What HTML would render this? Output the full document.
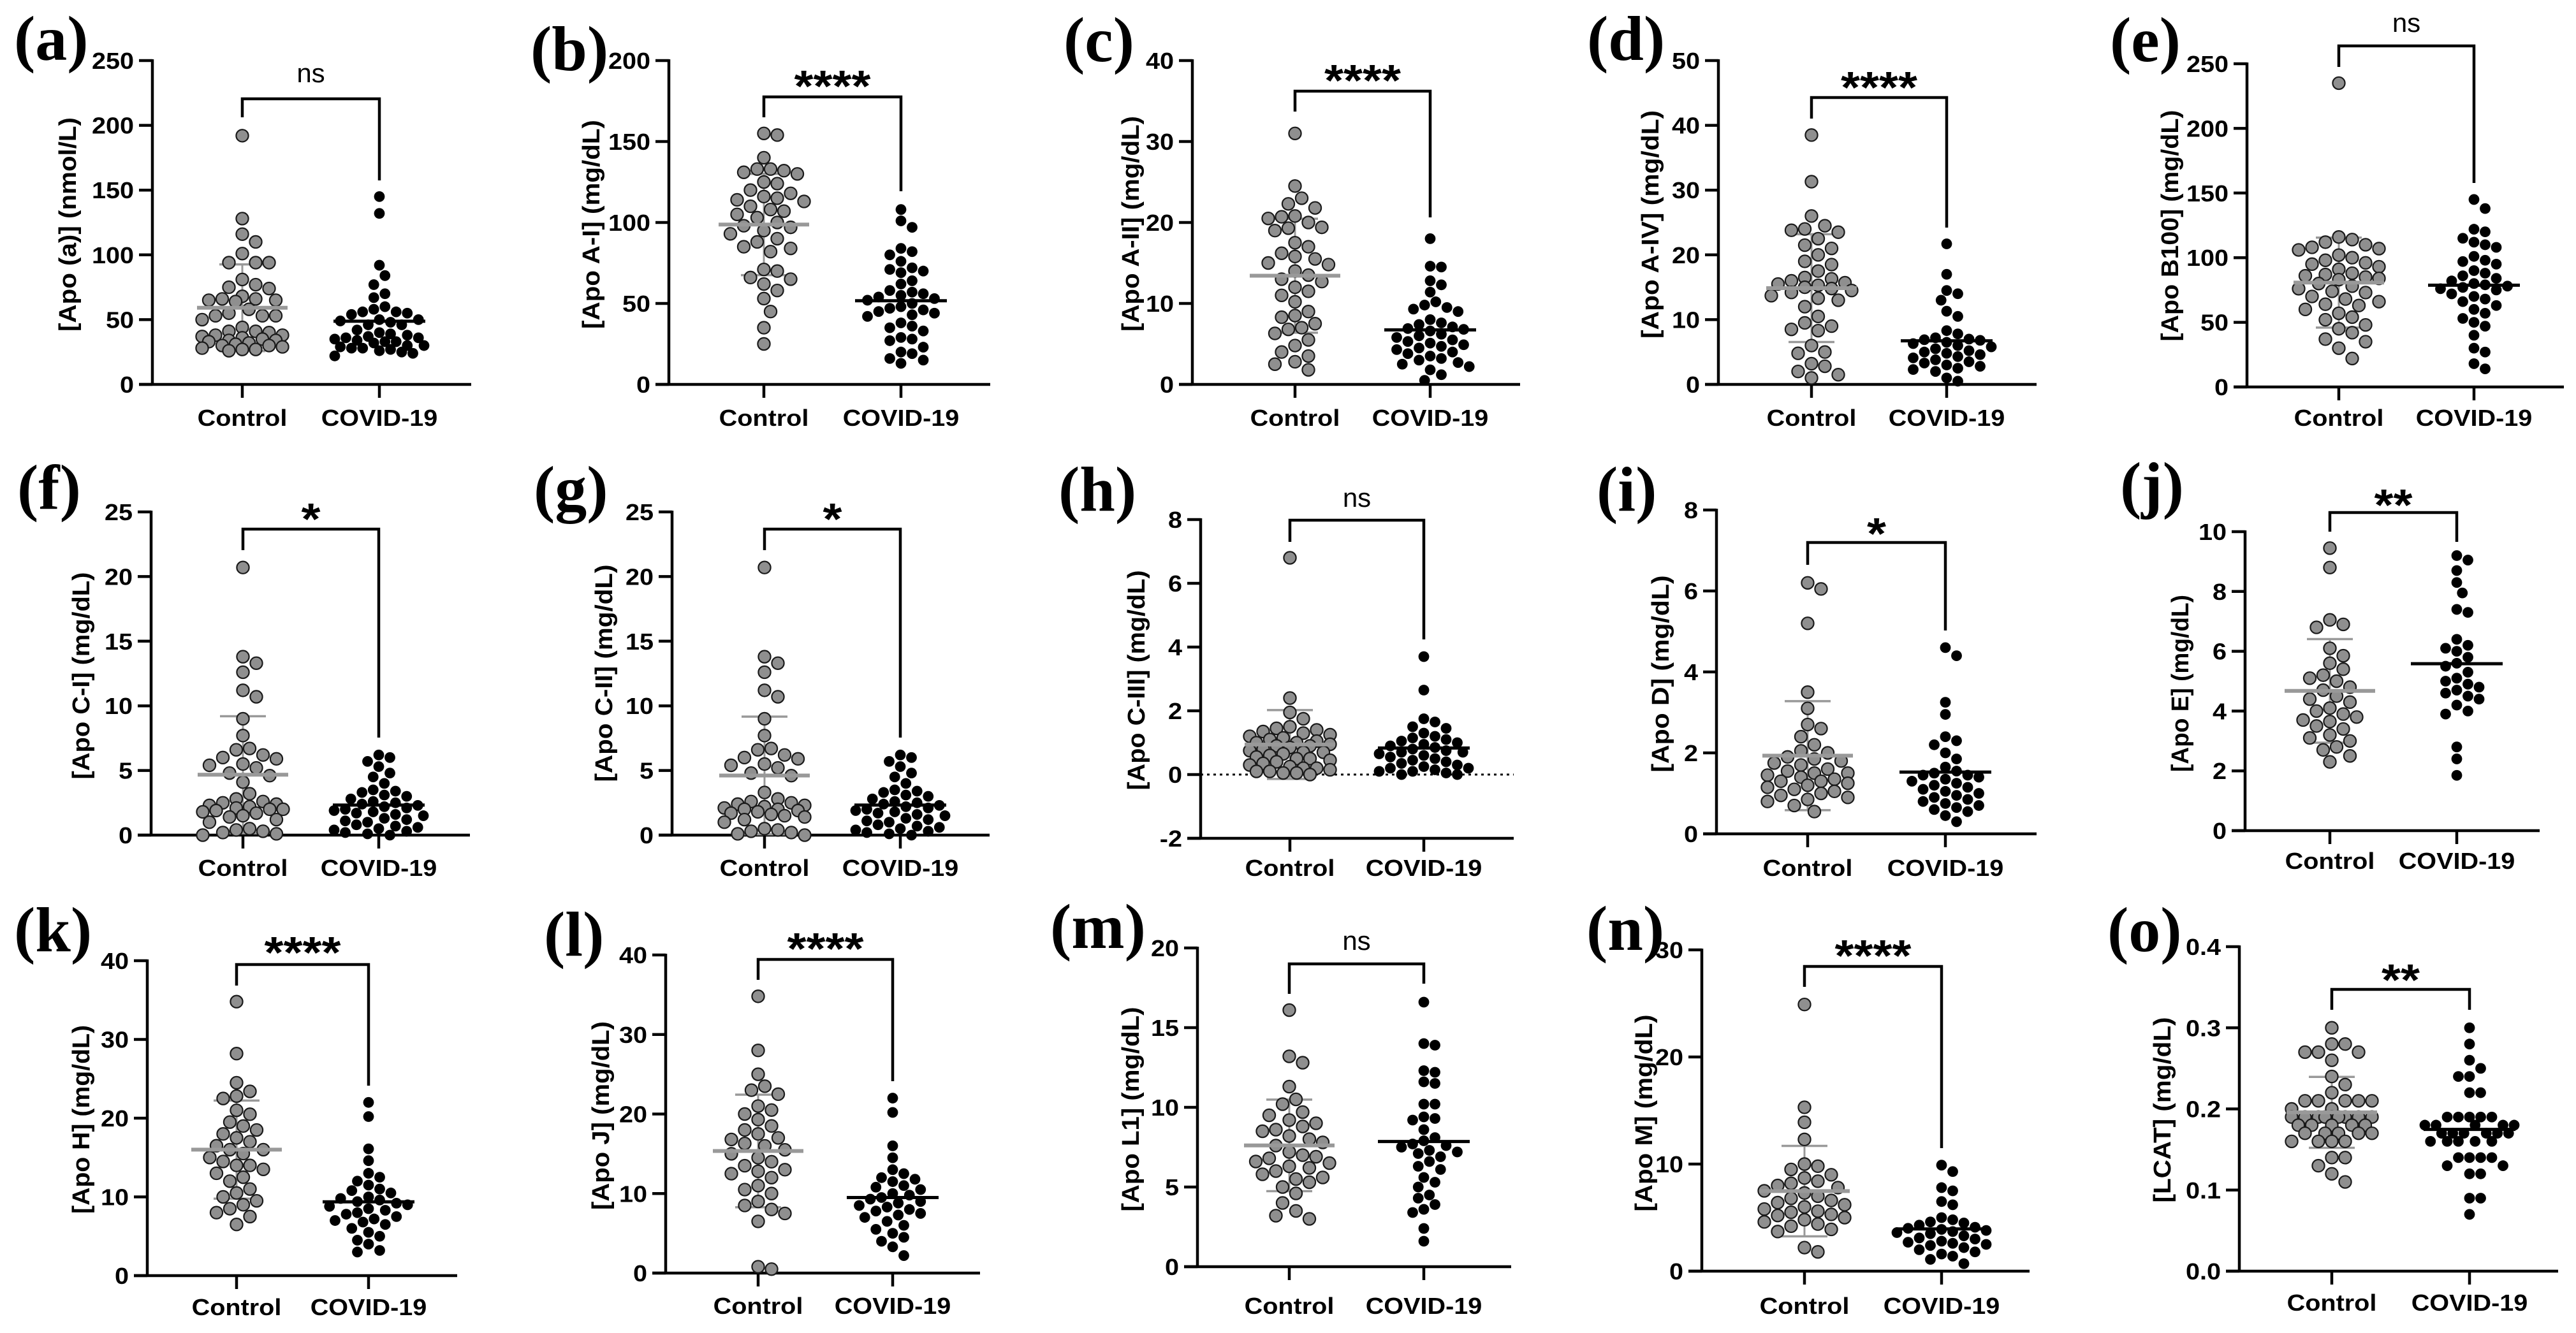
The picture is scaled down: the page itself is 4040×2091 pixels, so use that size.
<!DOCTYPE html>
<html><head><meta charset="utf-8">
<style>
html,body{margin:0;padding:0;background:#fff;}
svg{display:block;}
text{font-family:"Liberation Sans",Arial,sans-serif;}
.pl{font-family:"Liberation Serif",serif;font-weight:bold;font-size:100px;}
</style></head>
<body>
<svg id="fig" width="4040" height="2091" viewBox="0 0 4040 2091" xmlns="http://www.w3.org/2000/svg"></svg>
<script>
// ---- data ----
const categories = ["Control", "COVID-19"];
const aCtrl=[192,128,116,110,101,94,94,94,81,77,75,74,68,66,66,65,65,64,58,55,53,53,53,50,44,41,41,40,38,38,37,36,35,34,34,33,32,31,30,30,29,28,27,27,26];
const aCov=[145,132,92,84,77,70,67,60,58,56,56,55,54,50,50,49,48,46,46,42,40,39,38,37,36,36,35,34,33,33,32,30,30,29,28,28,27,26,25,24,22];
const bCtrl=[155,154,140,133,133,132,131,130,125,124,120,118,116,115,114,113,110,108,107,105,103,100,98,97,95,93,90,88,85,84,82,71,70,66,65,62,58,53,45,35,25];
const bCov=[108,101,97,84,82,80,76,72,71,70,69,64,62,58,57,56,55,54,53,52,50,48,47,46,45,44,43,42,38,36,35,33,29,28,27,23,20,19,16,15,13];
const cCtrl=[31,24.5,23,22.3,21.8,20.8,20.7,20.5,20,19.4,19.3,19,17.5,17,16.2,15.8,15.5,15,14.8,14,13.5,13,12.7,12,11.5,11,10.2,9,8.5,8.3,7.5,7,6.8,6.3,5.5,4.8,4,3.5,2.8,2.5,1.8];
const cCov=[18,14.6,14.5,12.8,12.3,11.4,10.2,9.8,9.5,9.3,9,8,7.6,7.4,7.1,6.9,6.8,6.6,6.2,6,5.8,5.5,5.3,5.1,4.9,4.7,4.5,4.3,4,3.8,3.5,3.2,3,2.7,2.5,2.2,1.8,1.2,0.5];
const dCtrl=[38.5,31.3,26,24.5,24,23.8,23.5,22.5,21.5,21,20,19,18.5,17.5,16.5,16.3,16,15.7,15.5,15.3,15,14.8,14.5,14.2,13.7,13.3,13,12,10.5,9.5,9,8.5,8.3,6,5,4.8,3.2,2.8,2,1.5,1];
const dCov=[21.7,17,14.5,14,13,11.3,10.5,8.3,7.8,7.2,7,6.9,6.8,6.5,6.3,6,5.8,5.5,5.2,5,4.8,4.6,4.3,4.1,3.8,3.5,3.3,3,2.8,2.5,2.3,2,1,0.5];
const eCtrl=[235,116,114,112,110,108,107,106,102,100,98,96,95,93,91,88,87,86,85,84,83,80,78,76,74,73,70,68,66,64,63,60,57,54,52,48,45,42,37,35,30,22];
const eCov=[145,138,122,120,115,112,110,108,101,98,97,95,90,88,86,84,82,80,79,78,77,76,75,72,70,68,66,63,60,57,53,50,47,40,30,27,18,14];
const fCtrl=[20.7,13.8,13.3,12.6,11.2,10.7,9,7.7,6.7,6.6,6.2,6,5.9,5.5,5.4,5.2,4.8,4.6,4.1,3.2,2.8,2.6,2.5,2.4,2.3,2.2,2.1,2,2,1.9,1.8,1.7,1.5,1.4,1.2,1,0.5,0.4,0.3,0.2,0.1,0];
const fCov=[6.2,6,5.7,5.3,4.8,4.5,4,3.5,3.4,3.3,3.1,3,2.8,2.6,2.5,2.4,2.3,2.2,2.1,2,1.9,1.8,1.7,1.6,1.5,1.3,1.2,1.1,1,0.8,0.7,0.6,0.5,0.4,0.3,0.2,0.1,0];
const gCtrl=[20.7,13.8,13.3,12.6,11.2,10.7,9,7.7,6.7,6.6,6.2,6,5.9,5.5,5.4,5.2,4.8,4.6,3.3,2.8,2.6,2.5,2.4,2.3,2.2,2.1,2,2,1.9,1.8,1.7,1.6,1.5,1.4,1.2,1,0.5,0.4,0.3,0.2,0.1,0];
const gCov=[6.2,6,5.7,5.3,4.8,4.5,4,3.5,3.4,3.3,3.1,3,2.8,2.6,2.5,2.4,2.3,2.2,2.1,2,1.9,1.8,1.7,1.6,1.5,1.3,1.2,1.1,1,0.8,0.7,0.6,0.5,0.4,0.3,0.2,0.1,0];
const hCtrl=[6.8,2.4,1.95,1.75,1.5,1.45,1.4,1.35,1.3,1.25,1.2,1.15,1.1,1.05,1,1,0.95,0.9,0.9,0.85,0.8,0.75,0.7,0.7,0.65,0.6,0.55,0.5,0.5,0.45,0.4,0.35,0.3,0.25,0.2,0.2,0.15,0.1,0.1,0.05,0.05,0];
const hCov=[3.7,2.65,1.75,1.65,1.5,1.45,1.3,1.2,1.15,1.1,1.05,1,0.95,0.9,0.85,0.8,0.75,0.7,0.7,0.65,0.6,0.55,0.5,0.45,0.4,0.35,0.3,0.25,0.2,0.2,0.15,0.1,0.1,0.05,0,0];
const iCtrl=[6.2,6.05,5.2,3.5,3.1,2.7,2.6,2.4,2.2,2.05,2,1.9,1.85,1.8,1.75,1.7,1.6,1.55,1.5,1.5,1.45,1.4,1.35,1.3,1.3,1.25,1.2,1.15,1.1,1.05,1,0.95,0.9,0.85,0.8,0.7,0.55];
const iCov=[4.6,4.4,3.25,2.95,2.4,2.3,2.2,2,1.85,1.65,1.55,1.5,1.45,1.45,1.4,1.35,1.3,1.25,1.2,1.15,1.1,1.05,1,0.95,0.9,0.85,0.8,0.75,0.7,0.65,0.6,0.55,0.45,0.3];
const jCtrl=[9.45,8.8,7.05,6.9,6.8,6.1,5.85,5.6,5.4,5.2,5.1,5,4.8,4.7,4.5,4.4,4.3,4.1,4,3.9,3.8,3.7,3.65,3.5,3.4,3.2,3.1,3,2.8,2.7,2.5,2.3];
const jCov=[9.2,9.05,8.7,8.3,7.95,7.4,7.3,6.4,6.2,6.1,6,5.8,5.6,5.5,5.3,5.1,5,4.9,4.8,4.7,4.6,4.5,4.4,4.2,4,3.9,2.8,2.4,1.85];
const kCtrl=[34.8,28.2,24.5,23.4,22.8,22.5,21,20.5,19.5,19,18.5,18,17.5,17,16.5,16,16,15.5,15,14.5,14,14,13.5,13,12.5,12,11,10.5,10,9.5,9,8.5,8,7.5,6.5];
const kCov=[22,20.2,16.1,14.6,13,12.5,12,11.5,11,10.8,10.5,10,9.8,9.6,9.4,9.2,9,8.8,8.5,8.3,8,7.8,7.5,7.2,7,6.8,6.5,6,5.5,5,4.5,4,3.2,3];
const lCtrl=[34.8,28,25,23.5,23,22.5,21,20.5,20,19.3,18.5,18,17.5,17,16.8,16.3,16,15.5,15,14.5,14,13.5,13,12.8,12.5,12,11,10.5,10,9,8.5,8,7.5,6.5,0.8,0.5];
const lCov=[22,20.2,16,14.5,13,12.5,12,11.8,11.5,11,10.8,10.5,10,9.8,9.5,9.3,9,8.8,8.5,8.3,8,7.8,7.5,7.3,7,6.5,6,5.5,5,4.5,4,3.3,2.2];
const mCtrl=[16.1,13.2,12.8,11.3,10.5,10.2,9.7,9.5,9.2,9,8.8,8.6,8.5,8.2,8,7.8,7.6,7.2,7,6.9,6.8,6.6,6.5,6.3,6.2,6,5.8,5.6,5.5,5.3,5,4.6,4,3.5,3.2,3];
const mCov=[16.6,14,13.9,12.3,12.2,11.6,11.5,10.2,10.2,9.4,9.3,9.2,8.6,8.1,7.9,7.7,7.6,7.5,7.3,7.2,7.1,6.9,6.6,6.3,6.1,5.6,5.3,5,4.5,4.3,3.9,3.6,3.4,2.4,1.6];
const nCtrl=[24.9,15.3,13.9,12.3,10,9.8,9.5,9,8.7,8.4,8.2,8,7.8,7.5,7.3,7,6.8,6.6,6.4,6.2,6,5.8,5.6,5.5,5.3,5.2,5,4.8,4.6,4.4,4.2,3.9,3.7,2.2,1.8];
const nCov=[9.9,9.3,7.8,7.5,6.5,6.2,5,4.8,4.6,4.5,4.3,4.1,4,3.9,3.8,3.7,3.6,3.5,3.3,3.1,3,2.8,2.7,2.6,2.5,2.4,2.2,2,1.8,1.6,1.4,1.1,0.7];
const oCtrl=[.30,.28,.28,.27,.27,.27,.26,.24,.23,.22,.21,.21,.21,.21,.21,.20,.20,.19,.19,.19,.19,.19,.19,.19,.19,.19,.18,.18,.18,.18,.18,.17,.17,.17,.17,.17,.16,.16,.16,.16,.14,.14,.13,.12,.11];
const oCov=[.30,.28,.26,.25,.24,.24,.22,.22,.19,.19,.19,.19,.19,.18,.18,.18,.18,.18,.17,.17,.17,.17,.17,.17,.16,.16,.16,.16,.16,.14,.14,.14,.14,.13,.13,.12,.12,.09,.09,.07];
const titles=["[Apo (a)] (nmol/L)","[Apo A-I] (mg/dL)","[Apo A-II] (mg/dL)","[Apo A-IV] (mg/dL)","[Apo B100] (mg/dL)","[Apo C-I] (mg/dL)","[Apo C-II] (mg/dL)","[Apo C-III] (mg/dL)","[Apo D] (mg/dL)","[Apo E] (mg/dL)","[Apo H] (mg/dL)","[Apo J] (mg/dL)","[Apo L1] (mg/dL)","[Apo M] (mg/dL)","[LCAT] (mg/dL)"];
const sigLabels=["ns","****","****","****","ns","*","*","ns","*","**","****","****","ns","****","**"];
const yMins=[0,0,0,0,0,0,0,-2,0,0,0,0,0,0,0];
const yMaxs=[250,200,40,50,250,25,25,8,8,10,40,40,20,30,0.4];
const ySteps=[50,50,10,10,50,5,5,2,2,2,10,10,5,10,0.1];
const tickDecimals=[0,0,0,0,0,0,0,0,0,0,0,0,0,0,1];
const ctrlSeries=[aCtrl,bCtrl,cCtrl,dCtrl,eCtrl,fCtrl,gCtrl,hCtrl,iCtrl,jCtrl,kCtrl,lCtrl,mCtrl,nCtrl,oCtrl];
const covSeries=[aCov,bCov,cCov,dCov,eCov,fCov,gCov,hCov,iCov,jCov,kCov,lCov,mCov,nCov,oCov];

// ---- layout (pixel geometry, not data) ----
const L=[ // ax,top,bot,cx,vx,right,brY,brL,brR,sigY,labY,tx,ty,tlen,plx,ply
 [239,95,603,380,595,739,155,184,283,117,655,109,352,336,22,94],
 [1049,95,603,1198,1413,1553,152,184,300,119,655,930,352,328,832,110],
 [1870,95,603,2031,2243,2384,143,175,341,110,655,1776,351,338,1668,96],
 [2695,95,603,2841,3053,3194,153,186,357,121,655,2591,352,358,2489,94],
 [3524,100,607,3668,3880,4021,72,105,287,38,655,3406,354,363,3309,96],
 [237,803,1310,381,594,737,830,863,1157,798,1361,130,1060,325,27,798],
 [1054,803,1310,1199,1412,1552,830,863,1157,798,1361,950,1056,341,837,800],
 [1883,815,1315,2023,2233,2374,816,850,1003,783,1361,1785,1067,345,1660,801],
 [2692,800,1308,2835,3051,3194,851,886,989,821,1361,2607,1057,309,2504,801],
 [3521,834,1303,3654,3853,3983,804,834,850,776,1350,3422,1072,278,3325,794],
 [231,1507,2001,371,578,717,1513,1546,1703,1478,2050,130,1756,296,22,1492],
 [1044,1498,1997,1189,1400,1537,1505,1537,1696,1472,2048,945,1750,296,853,1499],
 [1878,1487,1987,2022,2233,2370,1512,1559,1543,1478,2048,1776,1740,321,1647,1487],
 [2669,1490,1994,2830,3045,3183,1516,1548,1801,1483,2048,2581,1746,309,2488,1490],
 [3512,1485,1994,3657,3873,4012,1552,1584,1584,1521,2043,3394,1741,291,3305,1492]
];
const letters="abcdefghijklmno";
const NS="http://www.w3.org/2000/svg";
const fig=document.getElementById('fig');
function mk(tag,attrs,parent,txt){const e=document.createElementNS(NS,tag);for(const k in attrs)e.setAttribute(k,attrs[k]);if(txt!==undefined)e.textContent=txt;(parent||fig).appendChild(e);return e;}
function stats(a){const m=a.reduce((s,v)=>s+v,0)/a.length;const sd=Math.sqrt(a.reduce((s,v)=>s+(v-m)*(v-m),0)/(a.length-1));return [m,sd];}
function swarm(vals,yf,cx,d,maxW){const placed=[];const out=[];const sorted=vals.slice().sort((p,q)=>q-p);
 const nSteps=Math.floor(maxW/(d/2));
 for(const v of sorted){const y=yf(v);let best=null,bestScore=-1;
  for(let k=0;k<=2*nSteps;k++){const off=(k===0)?0:(k%2? Math.ceil(k/2): -Math.ceil(k/2))*(d/2);const x=cx+off;
   let md=1e9;for(const p of placed){const dd=Math.hypot(p[0]-x,p[1]-y);if(dd<md)md=dd;}
   if(md>=d*0.98){best=x;bestScore=1e9;break;}
   if(md>bestScore){bestScore=md;best=x;}}
  placed.push([best,y]);out.push([best,y]);}
 return out;}

for(let p=0;p<15;p++){
 const [ax,top,bot,cx,vx,right,brY,brL,brR,sigY,labY,tx,ty,tlen,plx,ply]=L[p];
 const g=mk('g',{});
 
 
 const lo=yMins[p],hi=yMaxs[p];
 const yf=v=>bot-(v-lo)/(hi-lo)*(bot-top);
 const pl=mk('text',{x:plx,y:ply,class:'pl'},g,'('+letters[p]+')');
 
 
 const ya=mk('line',{x1:ax,y1:top-2,x2:ax,y2:bot+2,stroke:'#000','stroke-width':4.5},g);
 
 
 const nT=Math.round((hi-lo)/ySteps[p]);
 for(let t=0;t<=nT;t++){const v=lo+t*ySteps[p];const y=yf(v);
  mk('line',{x1:ax-21,y1:y,x2:ax,y2:y,stroke:'#000','stroke-width':4.5},g);
  const tl=mk('text',{transform:`translate(${ax-29},${y+13}) scale(1.1,1)`,'text-anchor':'end','font-size':36,'font-weight':'bold'},g,v.toFixed(tickDecimals[p]));
  
  
 }
 const xa=mk('line',{x1:ax-21,y1:bot,x2:right,y2:bot,stroke:'#000','stroke-width':4.5},g);
 
 
 if(lo<0){const z=mk('line',{x1:ax,y1:yf(0),x2:right,y2:yf(0),stroke:'#000','stroke-width':3,'stroke-dasharray':'4 6'},g);
  
  }
 [cx,vx].forEach((x,ci)=>{mk('line',{x1:x,y1:bot,x2:x,y2:bot+21,stroke:'#000','stroke-width':4.5},g);
  const cl=mk('text',{transform:`translate(${x},${labY+13}) scale(1.1,1)`,'text-anchor':'middle','font-size':36,'font-weight':'bold'},g,categories[ci]);
  
  });
 const yt=mk('text',{transform:`translate(${tx+10},${ty}) rotate(-90)`,'text-anchor':'middle','font-size':38,'font-weight':'bold',textLength:tlen,lengthAdjust:'spacingAndGlyphs'},g,titles[p]);
 
 
 const [m1,s1]=stats(ctrlSeries[p]);
 const sdv=mk('line',{x1:cx,y1:yf(m1+s1),x2:cx,y2:yf(Math.max(m1-s1,lo)),stroke:'#999','stroke-width':3},g);
 
 
 [m1+s1,m1-s1].forEach(v=>{if(v>=lo)mk('line',{x1:cx-36,y1:yf(v),x2:cx+36,y2:yf(v),stroke:'#999','stroke-width':3.5},g);});
 swarm(ctrlSeries[p],yf,cx,21,66).forEach(([x,y])=>{const c=mk('circle',{cx:x,cy:y,r:9.6,fill:'#8f8f8f',stroke:'#1a1a1a','stroke-width':2.2},g);
  
  });
 swarm(covSeries[p],yf,vx,17.5,70).forEach(([x,y])=>{const c=mk('circle',{cx:x,cy:y,r:8.4,fill:'#000'},g);
  
  });
 const ml=mk('line',{x1:cx-71,y1:yf(m1),x2:cx+71,y2:yf(m1),stroke:'#999','stroke-width':6},g);
 
 
 const [m2]=stats(covSeries[p]);
 const ml2=mk('line',{x1:vx-72,y1:yf(m2),x2:vx+72,y2:yf(m2),stroke:'#000','stroke-width':5},g);
 
 
 const br=mk('path',{d:`M${cx},${brL} V${brY} H${vx} V${brR}`,fill:'none',stroke:'#000','stroke-width':4.5},g);
 
 
 const s=sigLabels[p];let st;
 if(s==='ns'){st=mk('text',{x:(cx+vx)/2,y:sigY+12,'text-anchor':'middle','font-size':42},g,s);}
 else{st=mk('text',{x:(cx+vx)/2,y:sigY+40,'text-anchor':'middle','font-size':70,'font-weight':'bold',textLength:s.length*30,lengthAdjust:'spacingAndGlyphs'},g,s);}
 
 
}
</script>
</body></html>
